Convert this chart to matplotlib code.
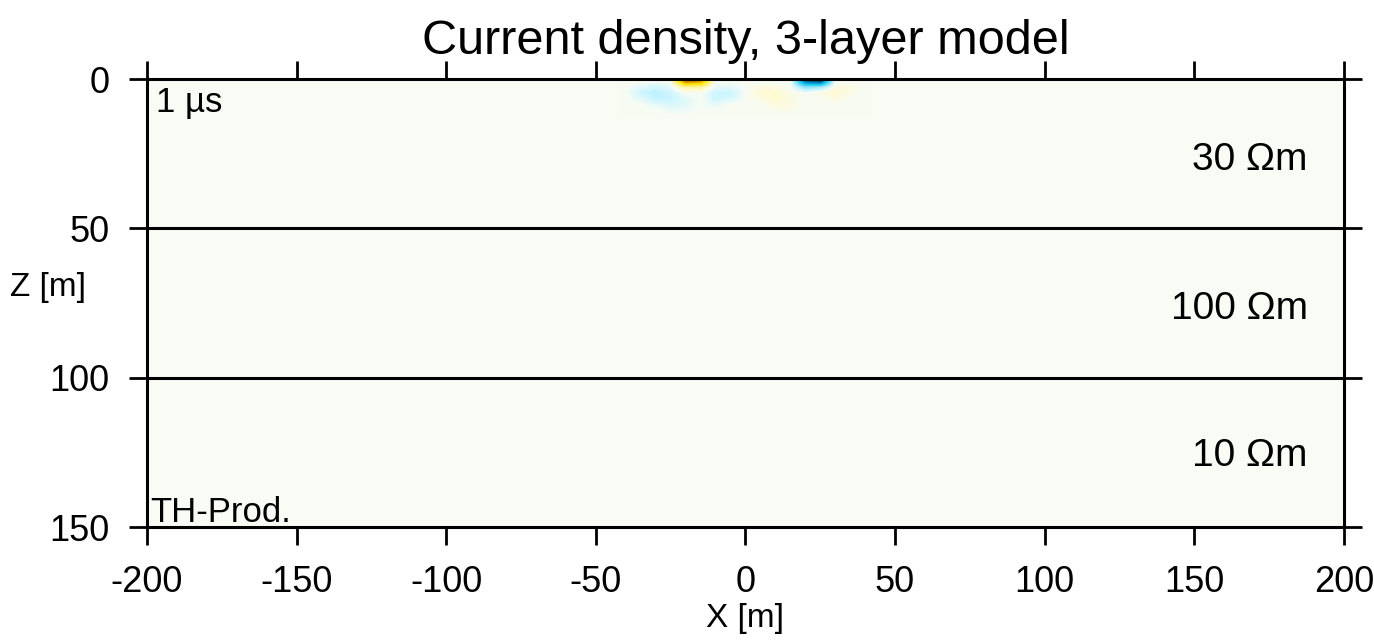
import matplotlib.pyplot as plt
import numpy as np
from matplotlib.colors import LinearSegmentedColormap

# layer model
boundaries = [50, 100]
layer_labels = ["30 \u03a9m", "100 \u03a9m", "10 \u03a9m"]
layer_label_z = [27, 77, 126]
time_label = "1 \u00b5s"

xticks = [-200, -150, -100, -50, 0, 50, 100, 150, 200]
zticks = [0, 50, 100, 150]

# current density near surface (coarse grid)
grid_x = [-40, -35, -30, -25, -20, -15, -10, -5, 0, 5, 10, 15, 20, 25, 30, 35, 40]
grid_z = [0, 2, 4, 6, 8, 10, 12]
J = np.array([
    [0, 0, 0, 0, 0.9, 0.8, 0, 0, 0, 0, 0, 0, -0.8, -0.9, 0, 0, 0],
    [0, -0.05, -0.1, -0.05, 0.2, 0.2, -0.05, -0.05, 0, 0.05, 0.05, 0, -0.25, -0.2, 0.05, 0.05, 0],
    [0, -0.1, -0.15, -0.1, 0, 0, -0.1, -0.12, 0, 0.08, 0.1, 0.03, 0, 0.05, 0.1, 0.03, 0],
    [0, -0.05, -0.12, -0.12, -0.05, 0, -0.1, -0.08, 0, 0.05, 0.1, 0.05, 0, 0, 0.06, 0, 0],
    [0, 0, -0.05, -0.08, -0.06, 0, -0.05, 0, 0, 0, 0.06, 0.05, 0, 0, 0, 0, 0],
    [0, 0, 0, -0.03, -0.03, 0, 0, 0, 0, 0, 0.03, 0.03, 0, 0, 0, 0, 0],
    [0, 0, 0, 0, 0, 0, 0, 0, 0, 0, 0, 0, 0, 0, 0, 0, 0],
])

bg = "#f8fcf4"
cmap = LinearSegmentedColormap.from_list("cd", [
    (0.0, "#003060"), (0.2, "#00c0f0"), (0.45, "#d0f6ff"), (0.5, bg),
    (0.55, "#fffad0"), (0.8, "#ffe400"), (1.0, "#c06000")])

plt.rcParams['font.family'] = ['Liberation Sans', 'DejaVu Sans']
plt.rcParams['axes.unicode_minus'] = False

fig = plt.figure(figsize=(13.74, 6.43), dpi=100)
ax = fig.add_axes([0.107, 0.180, 0.871, 0.697])
ax.set_facecolor(bg)

ax.imshow(J, extent=[grid_x[0] - 2.5, grid_x[-1] + 2.5, grid_z[-1] + 1, grid_z[0]],
          cmap=cmap, vmin=-1, vmax=1, interpolation='bilinear', aspect='auto', zorder=1)

for b in boundaries:
    ax.axhline(b, color='black', lw=2.2, zorder=3)

ax.set_xlim(-200, 200)
ax.set_ylim(150, 0)
ax.set_xticks(xticks)
ax.set_yticks(zticks)
ax.tick_params(direction='out', length=13, width=2, labelsize=26,
               top=True, right=True, labeltop=False, labelright=False, pad=14)
for s in ax.spines.values():
    s.set_linewidth(2.2)

for lab, z in zip(layer_labels, layer_label_z):
    ax.text(188, z, lab, ha='right', va='center', fontsize=28)
ax.text(-197, 8, time_label, ha='left', va='center', fontsize=25)
ax.text(-199, 145, "TH-Prod.", ha='left', va='center', fontsize=25)

ax.set_title("Current density, 3-layer model", fontsize=35, pad=18)
ax.set_xlabel("X [m]", fontsize=24, labelpad=2)
ax.set_ylabel("Z [m]", fontsize=24, rotation=0)
ax.yaxis.set_label_coords(-0.083, 0.5)

fig.savefig("out.png", dpi=100)
